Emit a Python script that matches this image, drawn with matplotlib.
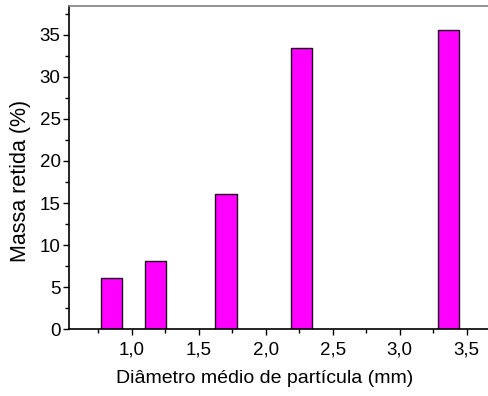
import numpy as np
import matplotlib.pyplot as plt
from matplotlib.ticker import MultipleLocator, FuncFormatter

plt.rcParams['font.family'] = ['Liberation Sans', 'DejaVu Sans']

diametro = [0.847, 1.177, 1.704, 2.268, 3.365]
massa = [6.1, 8.1, 16.1, 33.4, 35.6]
largura = 0.16

fig = plt.figure(figsize=(4.88, 3.96), dpi=100)
ax = fig.add_axes([0.1414, 0.1684, 0.8586, 0.8172])

ax.bar(diametro, massa, width=largura, color='#ff00ff', edgecolor='#200020', linewidth=1.0)

ax.set_xlim(0.53, 3.66)
ax.set_ylim(0, 38.45)

ax.xaxis.set_major_locator(MultipleLocator(0.5))
ax.xaxis.set_minor_locator(MultipleLocator(0.25))
ax.yaxis.set_major_locator(MultipleLocator(5))
ax.yaxis.set_minor_locator(MultipleLocator(2.5))
ax.xaxis.set_major_formatter(FuncFormatter(lambda v, p: ('%.1f' % v).replace('.', ',')))
ax.yaxis.set_major_formatter(FuncFormatter(lambda v, p: '%d' % v))

ax.tick_params(which='major', direction='out', length=4, width=1, labelsize=13.5)
ax.tick_params(axis='y', which='major', pad=2)
ax.tick_params(axis='x', which='major', pad=5)
ax.tick_params(which='minor', direction='out', length=3, width=1)
ax.tick_params(axis='x', which='both', top=False)
ax.tick_params(axis='y', which='both', right=False)

ax.spines['right'].set_visible(False)
ax.spines['top'].set_color('#808080')
ax.spines['top'].set_linewidth(1.2)
ax.spines['left'].set_linewidth(1.2)
ax.spines['bottom'].set_linewidth(1.2)

ax.set_xlabel('Diâmetro médio de partícula (mm)', fontsize=14)
ax.set_ylabel('Massa retida (%)', fontsize=15.5)
ax.xaxis.set_label_coords(0.4666, -0.1245)
ax.yaxis.set_label_coords(-0.0907, 0.458)

fig.savefig('out.png', dpi=100)
